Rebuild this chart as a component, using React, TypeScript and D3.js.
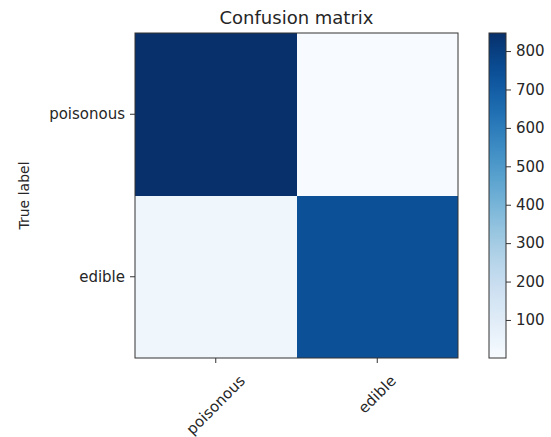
import React, { useEffect, useRef } from "react";
import * as d3 from "d3";

const classes = ["poisonous", "edible"];
// rows = true label, columns = predicted label
const matrix = [
  [847, 1],
  [36, 745],
];
const colorbarTicks = [100, 200, 300, 400, 500, 600, 700, 800];

const W = 551;
const H = 437;
const FONT = "DejaVu Sans, sans-serif";
const TEXT = "#262626";

export default function App() {
  const svgRef = useRef<SVGSVGElement>(null);

  useEffect(() => {
    if (!svgRef.current) return;
    const svg = d3.select(svgRef.current);
    svg.selectAll("*").remove();

    const plot = { left: 135, top: 33, width: 323, height: 325 };
    const cb = { left: 489, top: 33, width: 17, height: 325 };

    const flat = matrix.flat();
    const vmin = d3.min(flat)!;
    const vmax = d3.max(flat)!;
    const color = d3.scaleSequential(d3.interpolateBlues).domain([vmin, vmax]);

    const x = d3
      .scaleBand<string>()
      .domain(classes)
      .range([plot.left, plot.left + plot.width]);
    const y = d3
      .scaleBand<string>()
      .domain(classes)
      .range([plot.top, plot.top + plot.height]);

    // Cells
    const cells = matrix.flatMap((row, i) =>
      row.map((v, j) => ({ row: classes[i], col: classes[j], v }))
    );
    svg
      .append("g")
      .selectAll("rect")
      .data(cells)
      .enter()
      .append("rect")
      .attr("x", (d) => x(d.col)!)
      .attr("y", (d) => y(d.row)!)
      .attr("width", x.bandwidth())
      .attr("height", y.bandwidth())
      .attr("fill", (d) => color(d.v))
      .attr("shape-rendering", "crispEdges");

    svg
      .append("rect")
      .attr("x", plot.left)
      .attr("y", plot.top)
      .attr("width", plot.width)
      .attr("height", plot.height)
      .attr("fill", "none")
      .attr("stroke", "#333")
      .attr("stroke-width", 1);

    // Y axis
    const yAxis = svg
      .append("g")
      .attr("transform", `translate(${plot.left},0)`)
      .call(d3.axisLeft(y).tickSize(5).tickPadding(5));
    yAxis.select(".domain").remove();
    yAxis.selectAll("line").attr("stroke", "#333");
    yAxis
      .selectAll("text")
      .attr("fill", TEXT)
      .attr("font-family", FONT)
      .attr("font-size", 15);

    // X axis with rotated labels (centered, like matplotlib rotation=45)
    const xAxis = svg
      .append("g")
      .attr("transform", `translate(0,${plot.top + plot.height})`)
      .call(d3.axisBottom(x).tickSize(5));
    xAxis.select(".domain").remove();
    xAxis.selectAll("line").attr("stroke", "#333");
    xAxis
      .selectAll<SVGTextElement, string>("text")
      .attr("fill", TEXT)
      .attr("font-family", FONT)
      .attr("font-size", 15)
      .attr("text-anchor", "middle")
      .attr("dy", null)
      .attr("dominant-baseline", "central")
      .each(function () {
        const w = this.getComputedTextLength();
        const h = 15;
        const half = ((w + h) * Math.SQRT1_2) / 2;
        d3.select(this)
          .attr("y", null)
          .attr("transform", `translate(0,${15 + half}) rotate(-45)`);
      });

    // Title
    svg
      .append("text")
      .attr("x", plot.left + plot.width / 2)
      .attr("y", 24)
      .attr("text-anchor", "middle")
      .attr("font-family", FONT)
      .attr("font-size", 18)
      .attr("fill", TEXT)
      .text("Confusion matrix");

    // Y label
    svg
      .append("text")
      .attr("transform", `translate(29,${plot.top + plot.height / 2}) rotate(-90)`)
      .attr("text-anchor", "middle")
      .attr("font-family", FONT)
      .attr("font-size", 14)
      .attr("fill", TEXT)
      .text("True label");

    // Colorbar
    const defs = svg.append("defs");
    const grad = defs
      .append("linearGradient")
      .attr("id", "cbgrad")
      .attr("x1", 0)
      .attr("y1", 1)
      .attr("x2", 0)
      .attr("y2", 0);
    d3.range(0, 1.0001, 0.05).forEach((t) => {
      grad
        .append("stop")
        .attr("offset", t)
        .attr("stop-color", d3.interpolateBlues(t));
    });
    svg
      .append("rect")
      .attr("x", cb.left)
      .attr("y", cb.top)
      .attr("width", cb.width)
      .attr("height", cb.height)
      .attr("fill", "url(#cbgrad)")
      .attr("stroke", "#333")
      .attr("stroke-width", 1);

    const cbScale = d3
      .scaleLinear()
      .domain([vmin, vmax])
      .range([cb.top + cb.height, cb.top]);
    const cbAxis = svg
      .append("g")
      .attr("transform", `translate(${cb.left + cb.width},0)`)
      .call(d3.axisRight(cbScale).tickValues(colorbarTicks).tickSize(5).tickPadding(5));
    cbAxis.select(".domain").remove();
    cbAxis.selectAll("line").attr("stroke", "#333");
    cbAxis
      .selectAll("text")
      .attr("fill", TEXT)
      .attr("font-family", FONT)
      .attr("font-size", 15);
  }, []);

  return (
    <div
      style={{
        position: "fixed",
        left: 0,
        top: 0,
        width: W,
        height: H,
        overflow: "hidden",
        background: "#fff",
      }}
    >
      <svg ref={svgRef} width={W} height={H} style={{ display: "block" }}></svg>
    </div>
  );
}
